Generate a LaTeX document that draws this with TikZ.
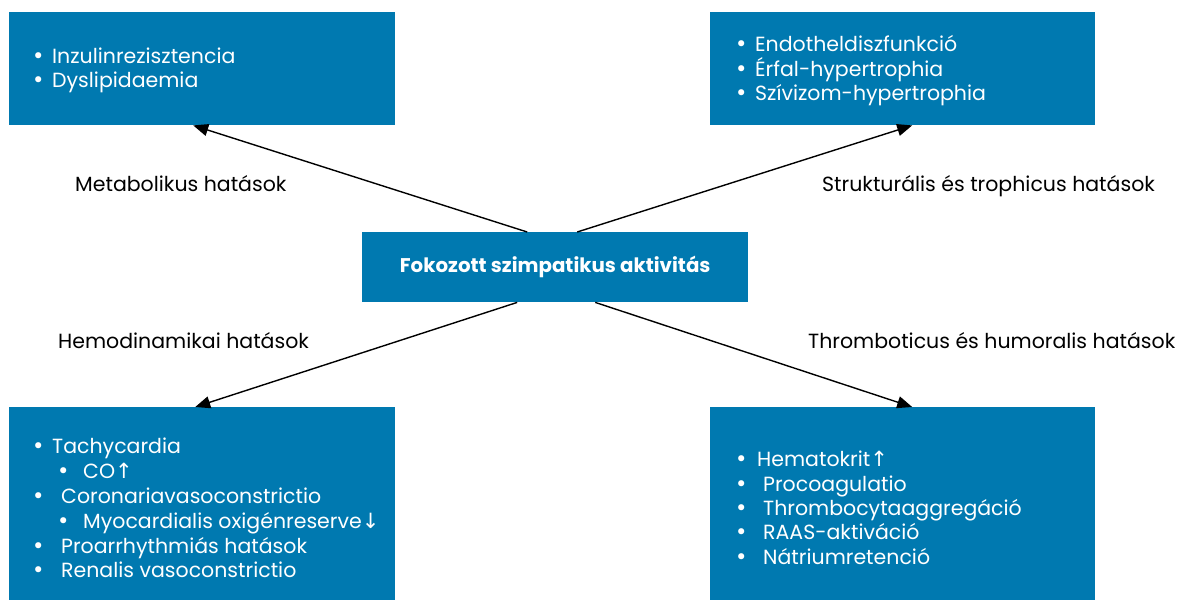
\documentclass[tikz,border=0pt]{standalone}
\usepackage{fontspec}
\setmainfont{Poppins}
\newfontfamily\symfont{DejaVu Sans}
\usetikzlibrary{arrows.meta}
\definecolor{boxblue}{HTML}{0079B0}
\newcommand{\upar}{{\symfont\fontsize{21}{21}\selectfont ↑}}
\newcommand{\downar}{{\symfont\fontsize{21}{21}\selectfont ↓}}
\newcommand{\bulletmark}{{\symfont\fontsize{21}{21}\selectfont •}}
% list line: bullet in a box of the given width, then the text
\newcommand{\itm}[2][20pt]{\makebox[#1][l]{\bulletmark}#2}
\begin{document}
\begin{tikzpicture}[x=1pt,y=-1pt,
  bluebox/.style={fill=boxblue, draw=none, inner sep=0pt, anchor=north west},
  listline/.style={text=white, anchor=base west, inner sep=0pt,
    font=\fontsize{20.5}{24}\selectfont},
  efflabel/.style={text=black, inner sep=0pt, anchor=base west,
    font=\fontsize{20.5}{24}\selectfont},
  link/.style={line width=1.4pt, -{Triangle[length=15pt,width=12pt]}}]
\useasboundingbox (0,0) rectangle (1182,600);

% boxes
\node[bluebox, minimum width=386pt, minimum height=113pt] (tl) at (9,12) {};
\node[bluebox, minimum width=385pt, minimum height=113pt] (tr) at (710,12) {};
\node[bluebox, minimum width=386pt, minimum height=70pt] (ctr) at (362,232) {};
\node[bluebox, minimum width=386pt, minimum height=193pt] (bl) at (9,407) {};
\node[bluebox, minimum width=385pt, minimum height=193pt] (br) at (710,407) {};

\node[text=white, font=\bfseries\fontsize{19.8}{22}\selectfont] (ctrtext) at (ctr.center) {Fokozott szimpatikus aktivitás};

% metabolic effects
\node[listline] (tl1) at (32,63) {\itm{Inzulinrezisztencia}};
\node[listline] (tl2) at (32,87.5) {\itm{Dyslipidaemia}};

% structural and trophic effects
\node[listline] (tr1) at (735,51.7) {\itm{Endotheldiszfunkció}};
\node[listline] (tr2) at (735,76) {\itm{Érfal-hypertrophia}};
\node[listline] (tr3) at (735,100.3) {\itm{Szívizom-hypertrophia}};

% haemodynamic effects
\node[listline] (bl1) at (32,453) {\itm{Tachycardia}};
\node[listline] (bl2) at (57,478) {\itm[26pt]{CO\upar}};
\node[listline] (bl3) at (32,503) {\itm[29pt]{Coronariavasoconstrictio}};
\node[listline] (bl4) at (57,528) {\itm[26pt]{Myocardialis oxigénreserve\downar}};
\node[listline] (bl5) at (32,553) {\itm[29pt]{Proarrhythmiás hatások}};
\node[listline] (bl6) at (32,577) {\itm[29pt]{Renalis vasoconstrictio}};

% thrombotic and humoral effects
\node[listline] (br1) at (735,466) {\itm[22pt]{Hematokrit\upar}};
\node[listline] (br2) at (735,491) {\itm[28pt]{Procoagulatio}};
\node[listline] (br3) at (735,515) {\itm[28pt]{Thrombocytaaggregáció}};
\node[listline] (br4) at (735,539.5) {\itm[28pt]{RAAS-aktiváció}};
\node[listline] (br5) at (735,564) {\itm[28pt]{Nátriumretenció}};

% effect labels
\node[efflabel] (lmeta) at (75,191.7) {Metabolikus hatások};
\node[efflabel] (lstruct) at (822,191.7) {Strukturális és trophicus hatások};
\node[efflabel] (lhemo) at (58,348.7) {Hemodinamikai hatások};
\node[efflabel] (lthromb) at (808,348.7) {Thromboticus és humoralis hatások};

% connectors
\draw[link] ([xshift=-28pt]ctr.north) -- ([xshift=-9pt]tl.south);
\draw[link] ([xshift=22pt]ctr.north) -- ([xshift=9.5pt]tr.south);
\draw[link] ([xshift=-38pt]ctr.south) -- ([xshift=-7pt]bl.north);
\draw[link] ([xshift=40pt]ctr.south) -- ([xshift=9.5pt]br.north);
\end{tikzpicture}
\end{document}
